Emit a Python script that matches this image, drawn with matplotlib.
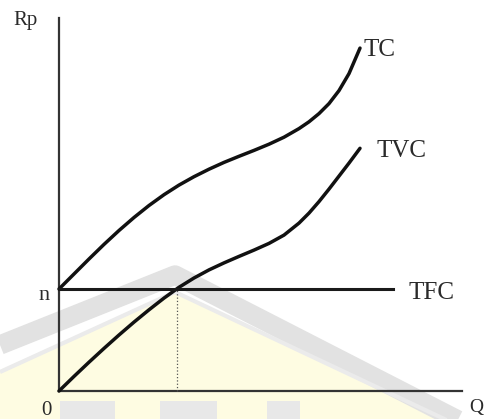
import numpy as np
import matplotlib.pyplot as plt

# output quantity (Q) and costs
q = [0, 15, 30, 45, 60, 75, 90, 105, 120, 135, 150, 165, 180, 195, 210,
     225, 240, 250, 260, 270, 280, 290, 301]
tc = [102, 117, 132, 146.6, 160.5, 173.5, 185.5, 196.3, 205.9, 214.3, 221.8,
      228.6, 234.7, 240.6, 246.8, 253.8, 262.4, 269.2, 277.4, 287.4, 300.4,
      317.4, 342.9]
tvc = [0, 14.6, 28.8, 42.6, 56, 68.9, 81.2, 92.9, 103.7, 113, 121.1, 128.1,
       134.6, 140.9, 147.6, 155.9, 167.9, 177.9, 189.4, 201.9, 214.9, 227.9,
       242.7]
tfc = 102
q_tfc_end = 334
q_cross = 118
labels = ['TC', 'TVC', 'TFC']

fig = plt.figure(figsize=(4.91, 4.19), dpi=100)
ax = fig.add_axes([0, 0, 1, 1])
ax.set_xlim(-59, 432)
ax.set_ylim(-28, 391)
ax.axis('off')

# faint watermark in the background
ax.fill([-59, 116, 381, 432, 432, -59], [21, 99, -28, -28, -28, -28],
        color='#fefce2', zorder=0, lw=0)
ax.plot([-59, 116, 432], [46, 116, -46], color='#e2e2e2', lw=14, zorder=0.5,
        solid_capstyle='butt')
ax.plot([-59, 116, 432], [19, 99, -50], color='#ebebeb', lw=3, zorder=0.5,
        solid_capstyle='butt')
for x0, x1 in [(1, 56), (101, 158), (208, 241)]:
    ax.fill([x0, x1, x1, x0], [-10, -10, -28, -28], color='#e8e8e8', zorder=0.5, lw=0)

# axes
ax.plot([0, 0], [0, 373], color='#333333', lw=1.6, zorder=2)
ax.plot([0, 403], [0, 0], color='#333333', lw=1.6, zorder=2)

# curves
ax.plot(q, tc, color='#111111', lw=2.5, zorder=3, solid_capstyle='round',
        solid_joinstyle='round')
ax.plot(q, tvc, color='#111111', lw=2.5, zorder=3, solid_capstyle='round',
        solid_joinstyle='round')
ax.plot([0, q_tfc_end], [tfc, tfc], color='#1a1a1a', lw=2.2, zorder=3)
ax.plot([q_cross, q_cross], [0, tfc], color='#555555', lw=0.9, ls=':', zorder=2)

font = dict(family=['Liberation Serif', 'DejaVu Serif'], color='#2a2a2a')
ax.text(-46, 366, 'Rp', fontsize=15, va='baseline', ha='left', **font)
ax.text(305, 335, labels[0], fontsize=18, va='baseline', ha='left', **font)
ax.text(318, 234, labels[1], fontsize=18, va='baseline', ha='left', **font)
ax.text(350, 92, labels[2], fontsize=18, va='baseline', ha='left', **font)
ax.text(-9, 91, 'n', fontsize=16, va='baseline', ha='right', **font)
ax.text(-7, -24, '0', fontsize=15, va='baseline', ha='right', **font)
ax.text(410, -21, 'Q', fontsize=14, va='baseline', ha='left', **font)

fig.savefig('out.png', dpi=100)
